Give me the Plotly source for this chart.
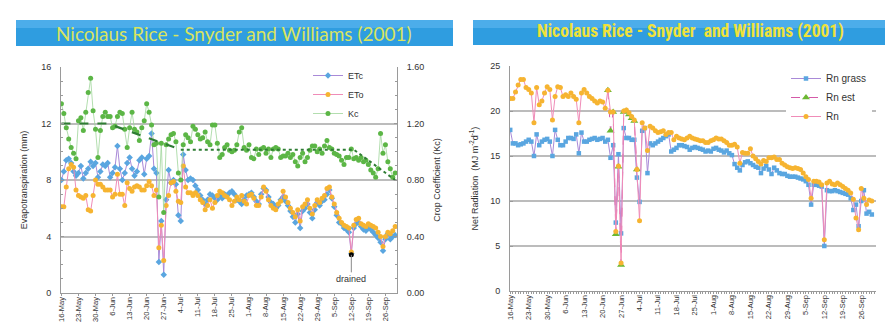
import pandas as pd
import plotly.graph_objects as go

# ---------------- data ----------------
dates = pd.date_range("2001-05-16", periods=138, freq="D")

tick_dates = ["2001-05-16", "2001-05-23", "2001-05-30", "2001-06-06", "2001-06-13",
              "2001-06-20", "2001-06-27", "2001-07-04", "2001-07-11", "2001-07-18",
              "2001-07-25", "2001-08-01", "2001-08-08", "2001-08-15", "2001-08-22",
              "2001-08-29", "2001-09-05", "2001-09-12", "2001-09-19", "2001-09-26"]
tick_labels = ["16-May", "23-May", "30-May", "6-Jun", "13-Jun", "20-Jun", "27-Jun",
               "4-Jul", "11-Jul", "18-Jul", "25-Jul", "1-Aug", "8-Aug", "15-Aug",
               "22-Aug", "29-Aug", "5-Sep", "12-Sep", "19-Sep", "26-Sep"]

# Crop ET (mm)
etc = [8.0, 8.6, 9.4, 9.5, 9.2, 8.6, 8.3, 8.5, 9.0, 8.1, 8.5, 8.8, 9.3, 9.0, 9.2, 8.2,
       8.6, 9.1, 9.0, 9.2, 8.2, 8.5, 8.9, 10.4, 8.8, 8.0, 8.5, 9.2, 9.6, 8.8, 8.3,
       8.6, 9.4, 9.6, 8.4, 9.5, 9.7, 11.3, 8.8, 8.5, 2.2, 5.1, 1.3, 6.6, 8.7, 7.8,
       8.0, 7.7, 5.5, 5.1, 9.8, 8.7, 8.0, 8.1, 8.0, 7.6, 7.3, 6.9, 6.6, 6.3, 6.6,
       7.0, 6.9, 6.7, 6.6, 6.9, 6.7, 7.0, 6.9, 7.1, 7.2, 7.0, 6.6, 6.5, 6.3, 6.6, 6.9,
       7.0, 7.1, 6.8, 6.5, 6.3, 7.0, 7.4, 7.3, 6.8, 6.4, 6.3, 6.0, 6.2, 6.6, 6.8,
       6.5, 6.2, 5.8, 5.4, 5.0, 5.6, 4.6, 5.8, 6.0, 6.3, 5.7, 5.3, 5.9, 6.4, 6.2, 6.5,
       6.6, 7.0, 7.3, 6.7, 6.1, 5.5, 5.0, 4.9, 4.6, 4.5, 4.3, 2.8, 4.6, 4.9, 5.0,
       4.7, 4.5, 4.4, 4.6, 4.5, 4.3, 4.1, 3.9, 3.6, 3.0, 3.8, 4.2, 3.8, 4.0, 4.1]
# Reference ET (mm)
eto = [6.1, 6.1, 7.5, 8.8, 9.1, 8.9, 7.3, 6.9, 6.8, 6.7, 6.9, 5.9, 5.8, 6.9, 8.0, 7.7,
       7.7, 7.5, 7.3, 7.3, 7.3, 6.8, 7.0, 8.4, 7.0, 7.0, 6.2, 7.8, 7.4, 7.2, 7.5,
       7.6, 7.5, 7.3, 7.3, 7.6, 7.9, 7.6, 6.9, 7.3, 3.2, 4.8, 2.3, 6.2, 6.9, 7.8,
       7.9, 7.2, 6.5, 6.4, 9.0, 7.5, 7.1, 7.1, 6.9, 7.1, 6.9, 6.6, 6.4, 5.9, 6.2,
       6.6, 6.0, 6.4, 6.9, 7.2, 7.1, 6.9, 6.8, 6.6, 6.2, 6.5, 6.8, 6.6, 6.9, 6.5, 6.3,
       6.9, 7.0, 6.7, 6.2, 6.2, 6.8, 7.5, 7.2, 6.6, 6.2, 6.0, 5.9, 6.3, 6.5, 7.2,
       6.8, 6.4, 6.0, 5.7, 5.4, 5.9, 5.1, 6.1, 6.3, 6.6, 6.0, 5.6, 6.2, 6.6, 6.4, 6.7,
       6.9, 7.4, 7.5, 6.8, 6.3, 5.7, 5.3, 5.0, 4.8, 4.7, 4.6, 2.9, 4.8, 5.2, 5.3,
       4.9, 4.8, 4.7, 4.9, 4.8, 4.7, 4.6, 4.3, 4.0, 3.3, 4.0, 4.3, 4.2, 4.4, 4.7]
# Crop coefficient
kc = [1.34, 1.27, 1.17, 1.09, 1.03, 0.99, 0.95, 1.22, 1.24, 1.15, 1.28, 1.42, 1.52, 1.29, 1.16, 0.96,
      1.15, 1.25, 1.28, 1.25, 1.25, 1.17, 1.18, 1.25, 1.28, 1.27, 1.16, 1.03, 1.17, 1.28, 1.16,
      1.14, 1.08, 1.17, 1.22, 1.34, 1.28, 1.19, 1.05, 1.06, 0.68, 1.06, 0.57, 1.05, 1.09, 1.12,
      1.13, 1.07, 0.85, 0.80, 1.05, 1.12, 1.10, 1.07, 1.18, 1.16, 1.12, 1.09, 1.10, 1.14, 1.07,
      1.05, 1.19, 1.19, 1.06, 0.96, 0.98, 1.03, 1.05, 1.01, 1.00, 1.01, 1.05, 1.14, 1.17, 1.03, 1.01,
      1.05, 0.96, 0.95, 1.02, 0.98, 1.02, 1.03, 0.99, 1.02, 0.96, 1.02, 1.03, 1.02, 0.96, 0.97,
      0.97, 0.99, 0.96, 0.98, 0.93, 0.90, 0.96, 0.99, 0.93, 0.96, 1.01, 1.04, 1.04, 1.00, 1.02, 0.99,
      1.04, 1.08, 1.03, 1.02, 0.99, 0.98, 0.97, 0.94, 0.91, 0.96, 0.96, 1.02, 0.95, 0.96, 0.94,
      0.96, 0.93, 0.94, 0.91, 0.87, 0.85, 0.82, 0.88, 1.13, 0.99, 1.05, 0.93, 0.88, 0.82, 0.85]
# Smoothed Kc curve
kc_dash_dates = ["2001-05-16", "2001-06-04", "2001-07-04"]
kc_dash_values = [1.20, 1.20, 1.015]
kc_dot_dates = ["2001-07-04", "2001-09-13", "2001-09-30"]
kc_dot_values = [1.015, 1.015, 0.80]
drained_date = ["2001-09-12"]
drained_value = [2.7]

# Net radiation (MJ m-2 d-1)
rn_grass = [17.9, 16.4, 16.4, 16.2, 16.3, 16.4, 16.6, 16.8, 16.6, 15.0, 17.4, 16.2, 16.6, 16.8, 16.9, 16.6,
            15.0, 17.9, 16.8, 16.2, 16.2, 16.6, 17.0, 17.0, 16.9, 17.4, 15.3, 17.6, 16.6, 16.6, 16.8,
            16.9, 17.0, 16.8, 16.9, 17.0, 16.6, 16.8, 14.8, 16.2, 7.6, 15.2, 6.4, 18.1, 17.0, 17.0,
            16.8, 16.8, 12.6, 9.9, 17.8, 18.1, 13.1, 16.4, 16.2, 16.4, 16.6, 16.8, 17.0, 17.2, 17.4,
            15.5, 15.7, 15.9, 16.2, 16.2, 16.1, 16.0, 15.7, 15.9, 16.0, 15.9, 15.8, 15.7, 15.5,
            15.6, 15.5, 15.8, 15.9, 15.7, 15.6, 15.4, 15.6, 15.3, 15.1, 14.1, 13.7, 13.4, 14.0, 14.3,
            14.4, 14.2, 14.0, 13.8, 13.7, 13.1, 13.6, 13.9, 13.5, 13.0, 13.7, 13.4, 13.1, 13.0, 13.0,
            12.8, 12.7, 12.7, 12.7, 12.6, 12.5, 12.4, 12.2, 11.8, 9.6, 11.8, 11.8, 11.7, 11.6, 5.0,
            11.2, 11.1, 11.1, 11.2, 11.1, 11.0, 10.9, 10.8, 10.7, 10.3, 9.0, 9.6, 7.2, 10.0, 11.2,
            8.6, 8.8, 8.5]
rn = [21.4, 21.4, 22.1, 22.9, 23.5, 23.5, 22.6, 22.4, 22.0, 18.7, 22.6, 20.7, 21.1, 22.0, 22.7, 22.4,
      19.0, 21.6, 22.7, 22.6, 21.6, 21.8, 21.6, 22.0, 21.6, 21.3, 18.7, 22.0, 22.4, 22.0, 21.6,
      21.4, 21.1, 20.9, 21.1, 21.0, 20.3, 22.3, 19.9, 19.9, 6.6, 13.9, 3.1, 20.0, 20.1, 19.8,
      19.4, 19.0, 13.5, 7.8, 18.7, 18.1, 15.6, 18.3, 18.1, 17.8, 17.6, 17.7, 17.8, 17.4, 17.6,
      17.6, 16.8, 17.2, 17.0, 16.9, 16.8, 17.0, 17.2, 17.0, 16.9, 16.8, 16.7, 16.7, 16.5,
      16.5, 16.7, 16.8, 17.0, 16.9, 16.9, 16.7, 16.5, 16.2, 16.2, 16.3, 16.0, 14.2, 15.4, 15.3,
      15.3, 15.8, 15.0, 14.7, 14.4, 14.1, 14.5, 14.4, 14.8, 14.8, 14.9, 14.6, 14.6, 14.2, 14.0,
      13.8, 13.7, 13.6, 13.7, 13.6, 13.5, 13.1, 12.7, 12.4, 10.3, 12.2, 12.2, 12.1, 11.8, 5.7,
      12.0, 12.2, 11.9, 11.8, 12.0, 11.8, 11.6, 11.4, 11.2, 10.9, 10.2, 8.1, 6.8, 11.4, 10.3,
      9.6, 10.1, 10.0]
rn_est_dates = ["2001-06-22", "2001-06-23", "2001-06-24", "2001-06-25", "2001-06-26", "2001-06-27",
                "2001-06-28", "2001-06-29", "2001-06-30", "2001-07-01", "2001-07-02", "2001-07-03"]
rn_est_values = [22.3, 17.8, 19.9, 6.3, 13.8, 2.9, 19.9, 20.0, 19.6, 19.2, 18.9, 13.5]

# ---------------- styling helpers ----------------
W, H = 893, 323
def px(x):
    return x / W
def py(y):
    return (H - y) / H

BLUE = "#5aa6e0"
ORANGE = "#f6b431"
GREEN = "#5cb646"
GRID = "#bcbcbc"
AX = "#9a9a9a"
TXT = "#333333"
FONT = "Liberation Sans"

fig = go.Figure()

# ---- left chart ----
fig.add_trace(go.Scatter(x=dates, y=etc, name="ETc", mode="lines+markers",
                         xaxis="x", yaxis="y", legend="legend",
                         line=dict(color="#a98ad8", width=1),
                         marker=dict(symbol="diamond", size=5, color=BLUE)))
fig.add_trace(go.Scatter(x=dates, y=eto, name="ETo", mode="lines+markers",
                         xaxis="x", yaxis="y", legend="legend",
                         line=dict(color="#f08cb8", width=1),
                         marker=dict(symbol="circle", size=5, color=ORANGE)))
fig.add_trace(go.Scatter(x=dates, y=kc, name="Kc", mode="lines+markers",
                         xaxis="x", yaxis="y2", legend="legend",
                         line=dict(color="#9fd69a", width=0.8),
                         marker=dict(symbol="circle", size=5, color=GREEN)))
fig.add_trace(go.Scatter(x=kc_dash_dates, y=kc_dash_values, mode="lines", showlegend=False,
                         xaxis="x", yaxis="y2", line=dict(color="#2f7d34", width=2.2, dash="dash")))
fig.add_trace(go.Scatter(x=kc_dot_dates, y=kc_dot_values, mode="lines", showlegend=False,
                         xaxis="x", yaxis="y2", line=dict(color="#2f7d34", width=2, dash="dot")))
fig.add_trace(go.Scatter(x=drained_date, y=drained_value, mode="markers", showlegend=False,
                         xaxis="x", yaxis="y", marker=dict(color="black", size=5)))

# ---- right chart ----
fig.add_trace(go.Scatter(x=dates, y=rn_grass, name="Rn grass", mode="lines+markers",
                         xaxis="x2", yaxis="y3", legend="legend2",
                         line=dict(color="#a98ad8", width=1),
                         marker=dict(symbol="square", size=4.5, color=BLUE)))
fig.add_trace(go.Scatter(x=rn_est_dates, y=rn_est_values, name="Rn est", mode="lines+markers",
                         xaxis="x2", yaxis="y3", legend="legend2",
                         line=dict(color="#d45aa8", width=1, dash="dash"),
                         marker=dict(symbol="triangle-up", size=7, color="#6cb832")))
fig.add_trace(go.Scatter(x=dates, y=rn, name="Rn", mode="lines+markers",
                         xaxis="x2", yaxis="y3", legend="legend2",
                         line=dict(color="#f08cb8", width=1),
                         marker=dict(symbol="circle", size=5, color=ORANGE)))

tickfont = dict(family=FONT, size=9, color=TXT)
xtickfont = dict(family=FONT, size=7.5, color=TXT)
xcommon = dict(type="date", tickvals=tick_dates, ticktext=tick_labels, tickangle=-90,
               tickfont=xtickfont, showline=True, linecolor=AX, linewidth=1,
               ticks="outside", ticklen=2, tickcolor=AX, showgrid=False,
               ticklabelstandoff=-2, zeroline=False, automargin=False)
ycommon = dict(tickfont=tickfont, showline=True, linecolor=AX, linewidth=1,
               ticks="inside", ticklen=3, tickcolor=AX, zeroline=False, automargin=False)

fig.update_layout(
    width=W, height=H,
    margin=dict(l=0, r=0, t=0, b=0),
    template="none",
    paper_bgcolor="white", plot_bgcolor="white",
    font=dict(family=FONT, color=TXT),
    xaxis=dict(domain=[px(53), px(389)], anchor="y",
               range=["2001-05-15 20:00", "2001-09-30 18:00"], **xcommon),
    yaxis=dict(domain=[py(285), py(59)], anchor="x", range=[0, 16], dtick=4,
               showgrid=True, gridcolor=GRID, gridwidth=1.5, ticklabelstandoff=7,
               minor=dict(dtick=1, ticks="inside", ticklen=2, tickcolor=AX, showgrid=False),
               title=dict(text="Evapotranspiration (mm)", font=dict(family=FONT, size=9, color=TXT), standoff=12),
               **ycommon),
    yaxis2=dict(overlaying="y", anchor="x", side="right", range=[0, 1.6], dtick=0.4,
                tickformat=".2f", showgrid=False, ticklabelstandoff=7,
                minor=dict(dtick=0.1, ticks="inside", ticklen=2, tickcolor=AX),
                title=dict(text="Crop Coefficient (Kc)", font=dict(family=FONT, size=9, color=TXT), standoff=10),
                **ycommon),
    xaxis2=dict(domain=[px(502), px(868)], anchor="y3",
                range=["2001-05-15 22:00", "2001-10-01 14:00"],
                minor=dict(dtick=86400000, ticks="outside", ticklen=2, tickcolor=AX),
                **xcommon),
    yaxis3=dict(domain=[py(283), py(58)], anchor="x2", range=[0, 25], dtick=5,
                showgrid=True, gridcolor=GRID, gridwidth=1.5, ticklabelstandoff=7,
                title=dict(text="Net Radiation  (MJ m<sup>-2</sup>d<sup>-1</sup>)",
                           font=dict(family=FONT, size=9, color=TXT), standoff=10),
                **ycommon),
    yaxis4=dict(overlaying="y3", anchor="x2", side="right", range=[0, 25], dtick=5,
                showgrid=False, ticklabelstandoff=7, **ycommon),
    legend=dict(x=px(300), y=py(53), xanchor="left", yanchor="top",
                bgcolor="rgba(255,255,255,0)", font=dict(family=FONT, size=9, color=TXT),
                itemwidth=30, tracegroupgap=0),
    legend2=dict(x=px(778), y=py(56), xanchor="left", yanchor="top",
                 bgcolor="white", font=dict(family=FONT, size=10, color=TXT),
                 itemwidth=30, tracegroupgap=0),
    showlegend=True,
    shapes=[
        dict(type="rect", xref="paper", yref="paper", x0=px(8), x1=px(445), y0=py(38), y1=py(12),
             fillcolor="#2f9de0", line=dict(width=0), layer="below"),
        dict(type="rect", xref="paper", yref="paper", x0=px(8), x1=px(445), y0=py(20), y1=py(12),
             fillcolor="#4cadea", line=dict(width=0), layer="below"),
        dict(type="rect", xref="paper", yref="paper", x0=px(465), x1=px(893), y0=py(37), y1=py(12),
             fillcolor="#2f9de0", line=dict(width=0), layer="below"),
        dict(type="rect", xref="paper", yref="paper", x0=px(465), x1=px(893), y0=py(20), y1=py(12),
             fillcolor="#4cadea", line=dict(width=0), layer="below"),
    ],
    annotations=[
        dict(text="Nicolaus Rice - Snyder and Williams (2001)", xref="paper", yref="paper",
             x=px(226), y=py(25), xanchor="center", yanchor="middle", showarrow=False,
             font=dict(family="Lato", size=19, color="#d9e45e")),
        dict(text="<b>Nicolaus Rice - Snyder  and Williams (2001)</b>", xref="paper", yref="paper",
             x=px(682), y=py(24), xanchor="center", yanchor="middle", showarrow=False,
             font=dict(family="Roboto Condensed, Roboto", size=17.5, color="#f0e23a")),
        dict(text="drained", x=drained_date[0], y=drained_value[0], xref="x", yref="y",
             showarrow=True, arrowhead=0, arrowwidth=1, arrowcolor="#8a8a8a", ax=0, ay=24,
             font=dict(family=FONT, size=9, color=TXT)),
    ],
)

fig.write_html("out.html")
